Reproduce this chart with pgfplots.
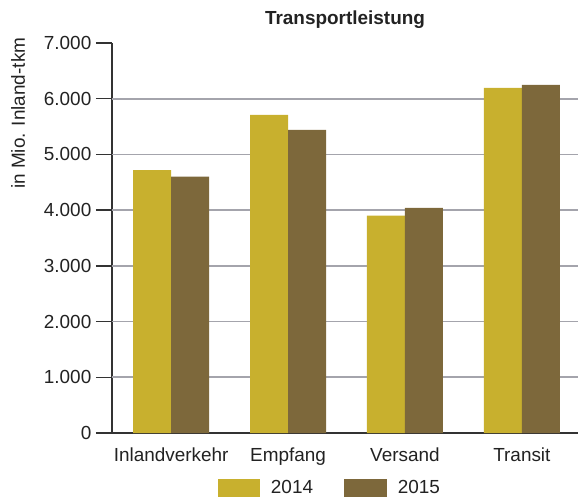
\documentclass[border=0pt]{standalone}
\usepackage{pgfplots}
\pgfplotsset{compat=1.18}
\usepackage{fontspec}
\setmainfont{Liberation Sans}
\definecolor{gelb}{HTML}{C8B02E}
\definecolor{braun}{HTML}{7D683B}
\definecolor{achse}{HTML}{333333}
\definecolor{gitter}{HTML}{A4A4AC}
\definecolor{schrift}{HTML}{222222}
\newcommand{\lbl}{\fontsize{14.2}{17}\selectfont\color{schrift}}
\begin{document}
\begin{tikzpicture}
\begin{axis}[
  scale only axis,
  width=349.5pt, height=292.5pt,
  ybar=0pt, bar width=28.5pt,
  xmin=-0.506, xmax=3.48,
  ymin=0, ymax=7000,
  axis x line=bottom, axis y line=left,
  axis line style={-, draw=achse, line width=1.1pt},
  xtick=data,
  xticklabels={Inlandverkehr,Empfang,Versand,Transit},
  xtick style={draw=none},
  xticklabel style={yshift=4.5pt},
  ytick={0,1000,...,7000},
  tick align=outside,
  major tick length=12pt,
  ytick style={draw=achse, line width=1.1pt},
  extra y ticks={1000,2000,3000,4000,5000,6000},
  extra y tick labels={},
  extra y tick style={ymajorgrids=true, major tick length=0pt},
  y grid style={draw=gitter, line width=1.3pt},
  /pgf/number format/.cd, 1000 sep={.}, assume math mode=true,
  /pgfplots/.cd,
  tick label style={font=\lbl},
  title={\textbf{Transportleistung}},
  title style={font=\lbl, at={(axis description cs:0.5,1)}, anchor=south, yshift=1.5pt},
  ylabel={in Mio. Inland-tkm},
  ylabel style={font=\lbl, at={(axis description cs:-0.2017,1.0256)}, anchor=east},
  legend columns=2,
  legend style={draw=none, font=\lbl, at={(axis description cs:0.468,-0.106)}, anchor=north,
    /tikz/every odd column/.append style={column sep=6pt},
    /tikz/every even column/.append style={column sep=21.5pt}},
  legend image code/.code={\fill[#1] (0pt,-6.75pt) rectangle (32pt,6.75pt);},
]
\addplot[fill=gelb, draw=none] coordinates {(0,4720) (1,5710) (2,3900) (3,6195)};
\addplot[fill=braun, draw=none] coordinates {(0,4600) (1,5440) (2,4040) (3,6250)};
\legend{2014,2015}
\end{axis}
\pgfresetboundingbox
\useasboundingbox (-84pt,-48pt) rectangle (349.5pt,324.75pt);
\end{tikzpicture}
\end{document}
